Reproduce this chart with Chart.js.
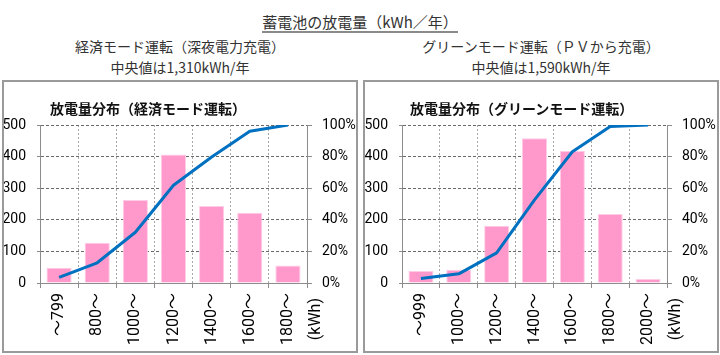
<!DOCTYPE html>
<html>
<head>
<meta charset="utf-8">
<script src="https://cdn.jsdelivr.net/npm/chart.js@4.4.0/dist/chart.umd.min.js"></script>
<style>
  html, body { margin:0; padding:0; background:#fff; }
  body { width:720px; height:355px; position:relative; overflow:hidden;
         font-family:"Noto Sans CJK JP", "Noto Sans", sans-serif; color:#333; }
  .hdr { position:absolute; left:0; width:720px; text-align:center; top:9px; }
  .hdr span { display:inline-block; font-size:15px; line-height:18px; border-bottom:2px solid #8a8a8a; color:#333; }
  .sub { position:absolute; font-size:14px; line-height:18px; text-align:center; width:356px; color:#333; }
  .box { position:absolute; top:80px; width:352px; height:269px; border:2px solid #9a9a9a; }
  .box canvas { position:absolute; left:0; top:0; }
  .ctitle { position:absolute; top:17px; font-size:14px; font-weight:bold; line-height:18px; color:#111; white-space:nowrap; }
</style>
</head>
<body>
<div class="hdr"><span>蓄電池の放電量（kWh／年）</span></div>
<div class="sub" style="left:2px; top:37px;">経済モード運転（深夜電力充電）</div>
<div class="sub" style="left:2px; top:58px;">中央値は1,310kWh/年</div>
<div class="sub" style="left:363px; top:37px;">グリーンモード運転（ＰＶから充電）</div>
<div class="sub" style="left:363px; top:58px;">中央値は1,590kWh/年</div>

<div class="box" style="left:2px;">
  <canvas id="c1" width="352" height="269"></canvas>
  <div class="ctitle" style="left:46px;">放電量分布（経済モード運転）</div>
</div>
<div class="box" style="left:363px;">
  <canvas id="c2" width="352" height="269"></canvas>
  <div class="ctitle" style="left:45px;">放電量分布（グリーンモード運転）</div>
</div>

<script>
// ---- data ----
const ecoCategories   = ['～799', '800～', '1000～', '1200～', '1400～', '1600～', '1800～'];
const ecoCounts       = [48, 127, 263, 407, 244, 222, 55];
const ecoCumPct       = [3.5, 12.8, 32.1, 61.9, 79.7, 96.0, 100];

const greenCategories = ['～999', '1000～', '1200～', '1400～', '1600～', '1800～', '2000～'];
const greenCounts     = [38, 42, 181, 458, 418, 218, 13];
const greenCumPct     = [2.8, 5.8, 19.1, 52.6, 83.1, 99.0, 100];

const countTicks = [0, 100, 200, 300, 400, 500];
const pctTicks   = [0, 20, 40, 60, 80, 100];
const unitLabel  = '(kWh)';

const FONT = "Roboto, 'Noto Sans CJK JP', sans-serif";

const unitPlugin = {
  id: 'unitLabel',
  afterDraw(chart) {
    const ctx = chart.ctx;
    const ca = chart.chartArea;
    ctx.save();
    ctx.translate(ca.right + 9, ca.bottom + 15);
    ctx.rotate(-Math.PI / 2);
    ctx.font = "16px " + FONT;
    ctx.fillStyle = '#000';
    ctx.textAlign = 'right';
    ctx.textBaseline = 'middle';
    ctx.fillText(unitLabel, 0, 0);
    ctx.restore();
  }
};

function makeChart(id, cats, counts, cum, leftW, rightW) {
  const n = cats.length;
  return new Chart(document.getElementById(id), {
    type: 'bar',
    data: {
      labels: cats,
      datasets: [
        { type: 'line', data: cum, yAxisID: 'y1', borderColor: '#0070C0', borderWidth: 3,
          pointRadius: 0, tension: 0, order: 1, borderCapStyle: 'butt', borderJoinStyle: 'round' },
        { type: 'bar', data: counts, yAxisID: 'y', backgroundColor: '#FF99CC',
          borderColor: '#FFCCE6', borderWidth: {top: 1, left: 1, right: 1, bottom: 0},
          barPercentage: 0.66, categoryPercentage: 1.0, order: 2 }
      ]
    },
    options: {
      responsive: false, animation: false,
      layout: { padding: { top: 43, left: 0, right: 0, bottom: 0 } },
      plugins: { legend: { display: false }, tooltip: { enabled: false }, title: { display: false } },
      scales: {
        x: {
          grid: {
            offset: true, tickLength: 5, tickColor: '#8c8c8c', lineWidth: 1,
            color: c => (c.type !== 'tick' || c.index === 0) ? 'rgba(0,0,0,0)' : '#a8a8a8'
          },
          border: { color: '#8c8c8c', dash: [2, 2] },
          ticks: { font: { size: 16, family: FONT }, color: '#000', minRotation: 90, maxRotation: 90,
                   padding: 5, autoSkip: false },
          afterFit: s => { s.height = 68; }
        },
        y: {
          position: 'left', min: 0, max: 500,
          afterBuildTicks: s => { s.ticks = countTicks.map(v => ({ value: v })); },
          ticks: { font: { size: 14, family: FONT }, color: '#000', padding: 11 },
          grid: { tickLength: 3, tickColor: '#8c8c8c',
                  color: c => (c.tick && c.tick.value === 0) ? 'rgba(0,0,0,0)' : '#6a6a6a' },
          border: { color: '#8c8c8c', dash: [3, 2] },
          afterFit: s => { s.width = leftW; }
        },
        y1: {
          position: 'right', min: 0, max: 100,
          afterBuildTicks: s => { s.ticks = pctTicks.map(v => ({ value: v })); },
          ticks: { font: { size: 14, family: FONT }, color: '#000', padding: 10, callback: v => v + '%' },
          grid: { drawOnChartArea: false, tickLength: 5, color: '#8c8c8c' },
          border: { color: '#8c8c8c', dash: [3, 2] },
          afterFit: s => { s.width = rightW; }
        }
      }
    },
    plugins: [unitPlugin]
  });
}

makeChart('c1', ecoCategories, ecoCounts, ecoCumPct, 36, 49);
makeChart('c2', greenCategories, greenCounts, greenCumPct, 37, 50);
</script>
</body>
</html>
